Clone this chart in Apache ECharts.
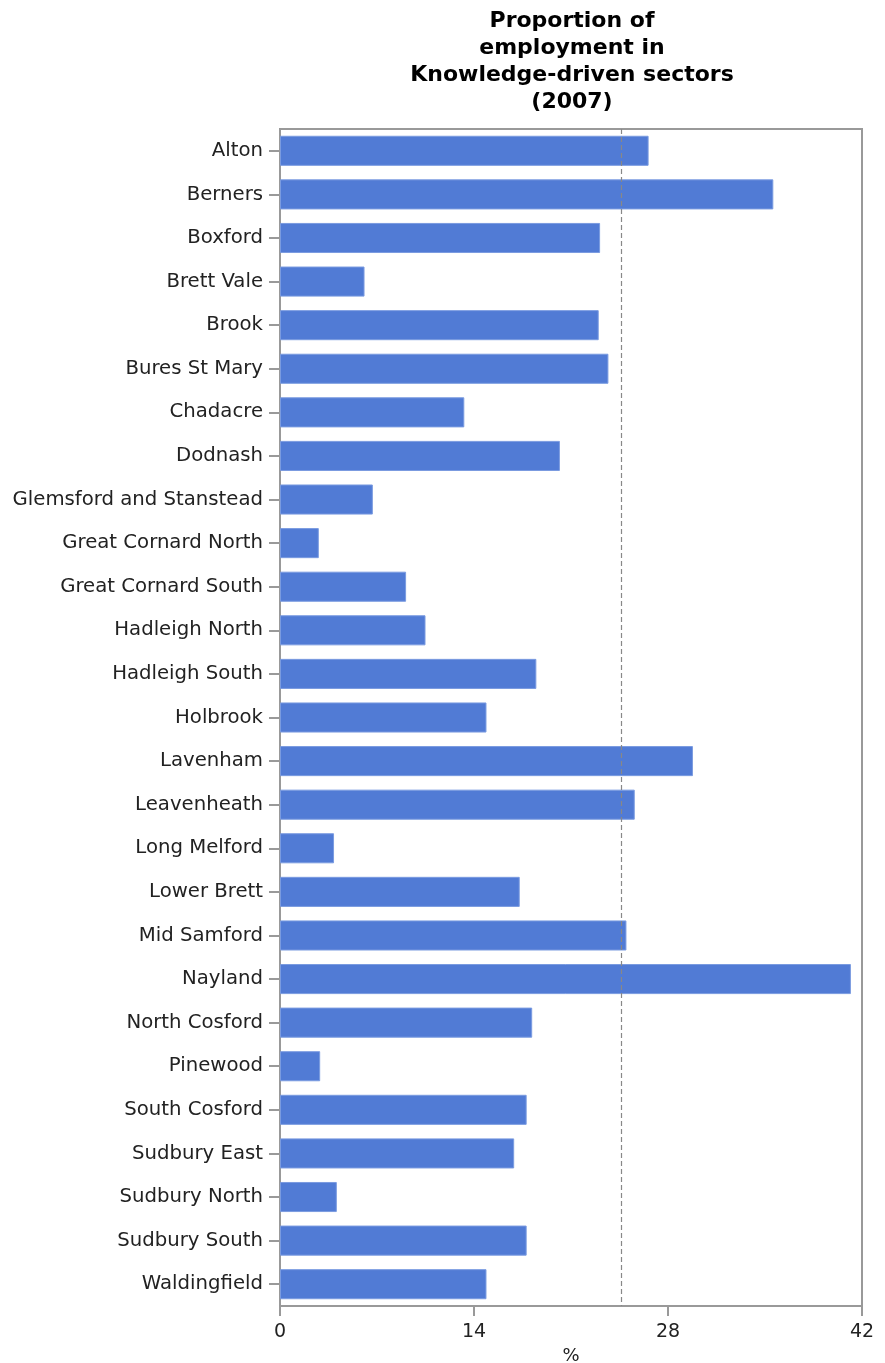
<!DOCTYPE html>
<html><head><meta charset="utf-8">
<script src="https://cdn.jsdelivr.net/npm/echarts@6/dist/echarts.min.js"></script>
<style>html,body{margin:0;padding:0;background:#fff}#c{width:885px;height:1363px}</style>
</head><body><div id="c"></div>
<script>
const categories = ["Alton","Berners","Boxford","Brett Vale","Brook","Bures St Mary","Chadacre","Dodnash","Glemsford and Stanstead","Great Cornard North","Great Cornard South","Hadleigh North","Hadleigh South","Holbrook","Lavenham","Leavenheath","Long Melford","Lower Brett","Mid Samford","Nayland","North Cosford","Pinewood","South Cosford","Sudbury East","Sudbury North","Sudbury South","Waldingfield"];
const values = [26.6,35.6,23.1,6.1,23.0,23.7,13.3,20.2,6.7,2.8,9.1,10.5,18.5,14.9,29.8,25.6,3.9,17.3,25.0,41.2,18.2,2.9,17.8,16.9,4.1,17.8,14.9];
const referenceValue = 24.6;
const xTicks = [0,14,28,42];
const titleText = "Proportion of\nemployment in\nKnowledge-driven sectors\n(2007)";
const axisName = "%";

const font = "DejaVu Sans, Verdana, sans-serif";
const chart = echarts.init(document.getElementById('c'));
chart.setOption({
  animation:false,
  backgroundColor:'#fff',
  title:{text:titleText,left:567,top:3,textAlign:'center',
    textStyle:{fontFamily:font,fontSize:22,fontWeight:'bold',color:'#000',lineHeight:27}},
  grid:{left:280,right:23,top:129,bottom:57,show:true,borderColor:'#999',borderWidth:2,backgroundColor:'transparent',
    containLabel:false,outerBoundsMode:'none'},
  xAxis:{type:'value',min:xTicks[0],max:xTicks[xTicks.length-1],interval:14,
    name:axisName,nameLocation:'middle',nameGap:40,
    nameTextStyle:{fontFamily:font,fontSize:18,color:'#222'},
    axisLine:{show:true,lineStyle:{color:'#999',width:2}},
    axisTick:{show:true,length:10,lineStyle:{color:'#999',width:2}},
    axisLabel:{fontFamily:font,fontSize:19,color:'#222',margin:17},
    splitLine:{show:false}},
  yAxis:{type:'category',data:categories,inverse:true,
    axisLine:{show:true,lineStyle:{color:'#999',width:2}},
    axisTick:{show:true,alignWithLabel:true,length:11,lineStyle:{color:'#999',width:2}},
    axisLabel:{fontFamily:font,fontSize:19.7,color:'#222',margin:17,padding:[4,0,0,0]}},
  series:[{type:'bar',data:values,barWidth:'69%',
    itemStyle:{color:'#517bd5',borderColor:'#7a9be0',borderWidth:1},
    markLine:{silent:true,symbol:'none',label:{show:false},
      lineStyle:{color:'#888',type:[5,3],width:1.2},
      data:[{xAxis:referenceValue}]}}]
});
</script></body></html>
